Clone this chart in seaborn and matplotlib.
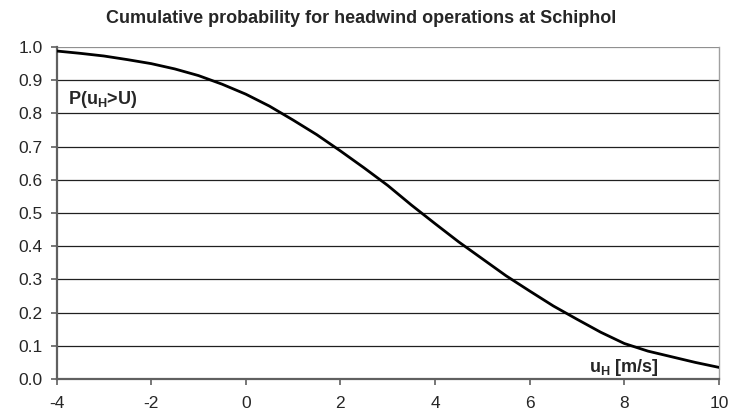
import matplotlib
matplotlib.use('Agg')
import matplotlib.pyplot as plt
import pandas as pd
import seaborn as sns

# Values
wind_speed = [-4, -3.5, -3, -2.5, -2, -1.5, -1, -0.5, 0, 0.5, 1, 1.5, 2, 2.5, 3,
              3.5, 4, 4.5, 5, 5.5, 6, 6.5, 7, 7.5, 8, 8.5, 9, 9.5, 10]
probability = [0.988, 0.981, 0.973, 0.962, 0.950, 0.934, 0.914, 0.888, 0.858, 0.822,
               0.780, 0.736, 0.687, 0.636, 0.583, 0.524, 0.468, 0.413, 0.362, 0.311,
               0.265, 0.220, 0.180, 0.141, 0.107, 0.084, 0.067, 0.050, 0.035]
x_ticks = [-4, -2, 0, 2, 4, 6, 8, 10]
y_ticks = [0.0, 0.1, 0.2, 0.3, 0.4, 0.5, 0.6, 0.7, 0.8, 0.9, 1.0]

df = pd.DataFrame({'u': wind_speed, 'p': probability})

sns.set_style('white')
plt.rcParams['font.family'] = ['Liberation Sans', 'DejaVu Sans']
plt.rcParams['mathtext.fontset'] = 'custom'
plt.rcParams['mathtext.bf'] = 'Liberation Sans:bold'
plt.rcParams['mathtext.rm'] = 'Liberation Sans'

fig = plt.figure(figsize=(7.32, 4.15), dpi=100)
ax = fig.add_axes([0.0772, 0.0867, 0.905, 0.8])

ax.set_yticks(y_ticks)
for yv in y_ticks[1:]:
    ax.axhline(yv, color='#202020' if yv < 1 else '#909090', linewidth=0.9, zorder=1)

sns.lineplot(data=df, x='u', y='p', ax=ax, color='black', linewidth=2, zorder=3)

ax.set_xlim(-4, 10)
ax.set_ylim(0, 1)
ax.set_xticks(x_ticks)
ax.set_xticklabels([str(t) for t in x_ticks])
ax.set_yticklabels(['%.1f' % t for t in y_ticks])
ax.set_xlabel('')
ax.set_ylabel('')
ax.tick_params(axis='both', which='major', length=4, width=1.2, color='#606060',
               labelsize=12.5, direction='out', bottom=True, left=True)
ax.tick_params(axis='y', pad=6)
ax.tick_params(axis='x', pad=8)

for side in ['left', 'bottom']:
    ax.spines[side].set_color('#606060')
    ax.spines[side].set_linewidth(1.6)
ax.spines['right'].set_color('#a0a0a0')
ax.spines['right'].set_linewidth(1)
ax.spines['top'].set_visible(False)

ax.set_title('Cumulative probability for headwind operations at Schiphol',
             fontsize=13, fontweight='bold', pad=17, x=0.46)

ax.text(-3.76, 0.843, r'P(u$_\mathbf{H}$>U)', fontsize=13, fontweight='bold',
        ha='left', va='center')
ax.text(7.25, 0.035, r'u$_\mathbf{H}$ [m/s]', fontsize=13, fontweight='bold',
        ha='left', va='center')

fig.savefig('out.png', dpi=100)
